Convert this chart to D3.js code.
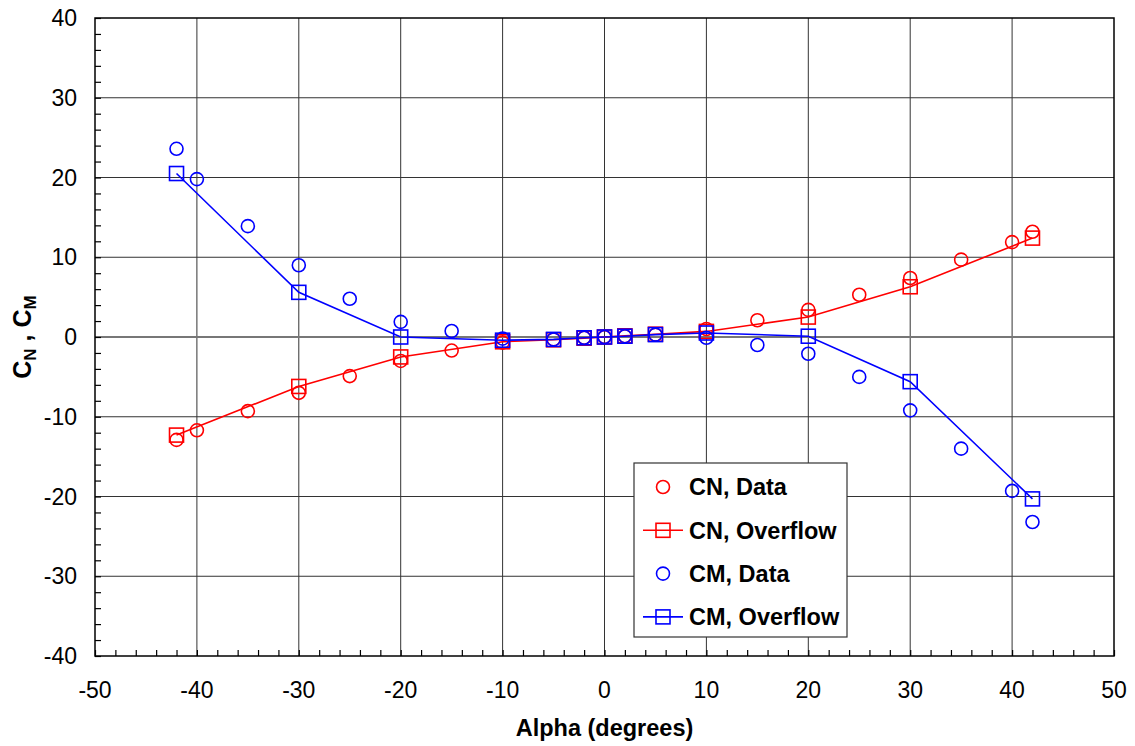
<!DOCTYPE html>
<html>
<head>
<meta charset="utf-8">
<script src="https://cdn.jsdelivr.net/npm/d3@7"></script>
<style>
  body { margin: 0; background: #fff; }
  text { font-family: "Liberation Sans", Arial, sans-serif; }
</style>
</head>
<body>
<div id="chart"></div>
<script>
// alpha values for each series
var alphaData = [-42, -40, -35, -30, -25, -20, -15, -10, -5, -2, 0, 2, 5, 10, 15, 20, 25, 30, 35, 40, 42];
var cnData = [-12.9, -11.7, -9.3, -7.0, -4.9, -3.0, -1.7, -0.7, -0.3, -0.1, 0, 0.1, 0.3, 1.0, 2.1, 3.4, 5.3, 7.4, 9.7, 11.9, 13.2];
var cmData = [23.6, 19.8, 13.9, 9.0, 4.8, 1.9, 0.75, -0.2, -0.3, -0.1, 0, 0.1, 0.3, -0.1, -1.0, -2.1, -5.0, -9.2, -14.0, -19.3, -23.2];

var alphaFlow = [-42, -30, -20, -10, -5, -2, 0, 2, 5, 10, 20, 30, 42];
var cnFlow = [-12.3, -6.2, -2.5, -0.6, -0.35, -0.15, 0, 0.15, 0.35, 0.7, 2.5, 6.3, 12.4];
var cmFlow = [20.5, 5.6, 0, -0.4, -0.3, -0.1, 0, 0.1, 0.3, 0.5, 0.1, -5.6, -20.3];

var xTicks = [-50, -40, -30, -20, -10, 0, 10, 20, 30, 40, 50];
var yTicks = [-40, -30, -20, -10, 0, 10, 20, 30, 40];

var width = 1135, height = 746;
var margin = {left: 95, right: 21, top: 18, bottom: 90};

var svg = d3.select("#chart").append("svg")
  .attr("width", width)
  .attr("height", height);

var x = d3.scaleLinear().domain([-50, 50]).range([margin.left, width - margin.right]);
var y = d3.scaleLinear().domain([-40, 40]).range([height - margin.bottom, margin.top]);

// grid lines
svg.append("g").selectAll("line")
  .data(xTicks.slice(1, -1))
  .enter().append("line")
  .attr("x1", function(d) { return x(d); })
  .attr("x2", function(d) { return x(d); })
  .attr("y1", y(-40))
  .attr("y2", y(40))
  .style("stroke", "#333")
  .style("stroke-width", 1);

svg.append("g").selectAll("line")
  .data(yTicks.slice(1, -1))
  .enter().append("line")
  .attr("x1", x(-50))
  .attr("x2", x(50))
  .attr("y1", function(d) { return y(d); })
  .attr("y2", function(d) { return y(d); })
  .style("stroke", function(d) { return d === 0 ? "#777" : "#333"; })
  .style("stroke-width", function(d) { return d === 0 ? 2 : 1; });

// axes: ticks inward, minor every 2
var xAxis = d3.axisBottom(x).tickValues(d3.range(-50, 51, 2))
  .tickSizeInner(-6).tickSizeOuter(0).tickFormat("");
var yAxis = d3.axisLeft(y).tickValues(d3.range(-40, 41, 2))
  .tickSizeInner(-6).tickSizeOuter(0).tickFormat("");

svg.append("g")
  .attr("transform", "translate(0," + y(-40) + ")")
  .call(xAxis)
  .call(function(g) { g.select(".domain").remove(); });

svg.append("g")
  .attr("transform", "translate(" + x(-50) + ",0)")
  .call(yAxis)
  .call(function(g) { g.select(".domain").remove(); });

svg.selectAll(".tick line").style("stroke", "#000").style("stroke-width", 1.2);

// frame
svg.append("rect")
  .attr("x", x(-50))
  .attr("y", y(40))
  .attr("width", x(50) - x(-50))
  .attr("height", y(-40) - y(40))
  .style("fill", "none")
  .style("stroke", "#000")
  .style("stroke-width", 1.5);

// tick labels
svg.append("g").selectAll("text")
  .data(xTicks)
  .enter().append("text")
  .attr("x", function(d) { return x(d); })
  .attr("y", y(-40) + 42)
  .attr("text-anchor", "middle")
  .style("font-size", "23px")
  .text(function(d) { return d; });

svg.append("g").selectAll("text")
  .data(yTicks)
  .enter().append("text")
  .attr("x", x(-50) - 18)
  .attr("y", function(d) { return y(d); })
  .attr("dy", "0.35em")
  .attr("text-anchor", "end")
  .style("font-size", "23px")
  .text(function(d) { return d; });

// axis titles
svg.append("text")
  .attr("x", x(0))
  .attr("y", 736)
  .attr("text-anchor", "middle")
  .style("font-size", "23.5px")
  .style("font-weight", "bold")
  .text("Alpha (degrees)");

var yt = svg.append("text")
  .attr("transform", "translate(31," + y(0) + ") rotate(-90)")
  .attr("text-anchor", "middle")
  .style("font-size", "25px")
  .style("font-weight", "bold");
yt.append("tspan").text("C");
yt.append("tspan").attr("dy", 5).style("font-size", "17px").text("N");
yt.append("tspan").attr("dy", -5).text(" , C");
yt.append("tspan").attr("dy", 5).style("font-size", "17px").text("M");

// series
var line = d3.line()
  .x(function(d) { return x(d[0]); })
  .y(function(d) { return y(d[1]); });

function drawLine(xs, ys, color) {
  svg.append("path")
    .datum(d3.zip(xs, ys))
    .attr("d", line)
    .style("fill", "none")
    .style("stroke", color)
    .style("stroke-width", 1.6);
}

function drawSquares(xs, ys, color) {
  svg.append("g").selectAll("rect")
    .data(d3.zip(xs, ys))
    .enter().append("rect")
    .attr("x", function(d) { return x(d[0]) - 7; })
    .attr("y", function(d) { return y(d[1]) - 7; })
    .attr("width", 14)
    .attr("height", 14)
    .style("fill", "none")
    .style("stroke", color)
    .style("stroke-width", 1.6);
}

function drawCircles(xs, ys, color) {
  svg.append("g").selectAll("circle")
    .data(d3.zip(xs, ys))
    .enter().append("circle")
    .attr("cx", function(d) { return x(d[0]); })
    .attr("cy", function(d) { return y(d[1]); })
    .attr("r", 6.5)
    .style("fill", "none")
    .style("stroke", color)
    .style("stroke-width", 1.6);
}

drawLine(alphaFlow, cnFlow, "#ff0000");
drawSquares(alphaFlow, cnFlow, "#ff0000");
drawCircles(alphaData, cnData, "#ff0000");
drawLine(alphaFlow, cmFlow, "#0000ff");
drawSquares(alphaFlow, cmFlow, "#0000ff");
drawCircles(alphaData, cmData, "#0000ff");

// legend
var legendItems = [
  {label: "CN, Data", color: "#ff0000", kind: "circle"},
  {label: "CN, Overflow", color: "#ff0000", kind: "square"},
  {label: "CM, Data", color: "#0000ff", kind: "circle"},
  {label: "CM, Overflow", color: "#0000ff", kind: "square"}
];

var legend = svg.append("g").attr("transform", "translate(634,463)");
legend.append("rect")
  .attr("width", 213)
  .attr("height", 174)
  .style("fill", "#fff")
  .style("stroke", "#333")
  .style("stroke-width", 1.2);

var item = legend.selectAll("g.item")
  .data(legendItems)
  .enter().append("g")
  .attr("class", "item")
  .attr("transform", function(d, i) { return "translate(0," + (24 + i * 43.3) + ")"; });

item.filter(function(d) { return d.kind === "square"; })
  .append("line")
  .attr("x1", 9).attr("x2", 49)
  .style("stroke", function(d) { return d.color; })
  .style("stroke-width", 1.6);

item.filter(function(d) { return d.kind === "square"; })
  .append("rect")
  .attr("x", 22).attr("y", -7).attr("width", 14).attr("height", 14)
  .style("fill", "none")
  .style("stroke", function(d) { return d.color; })
  .style("stroke-width", 1.6);

item.filter(function(d) { return d.kind === "circle"; })
  .append("circle")
  .attr("cx", 29).attr("r", 6.5)
  .style("fill", "none")
  .style("stroke", function(d) { return d.color; })
  .style("stroke-width", 1.6);

item.append("text")
  .attr("x", 55)
  .attr("dy", "0.35em")
  .style("font-size", "23.5px")
  .style("font-weight", "bold")
  .text(function(d) { return d.label; });
</script>
</body>
</html>
